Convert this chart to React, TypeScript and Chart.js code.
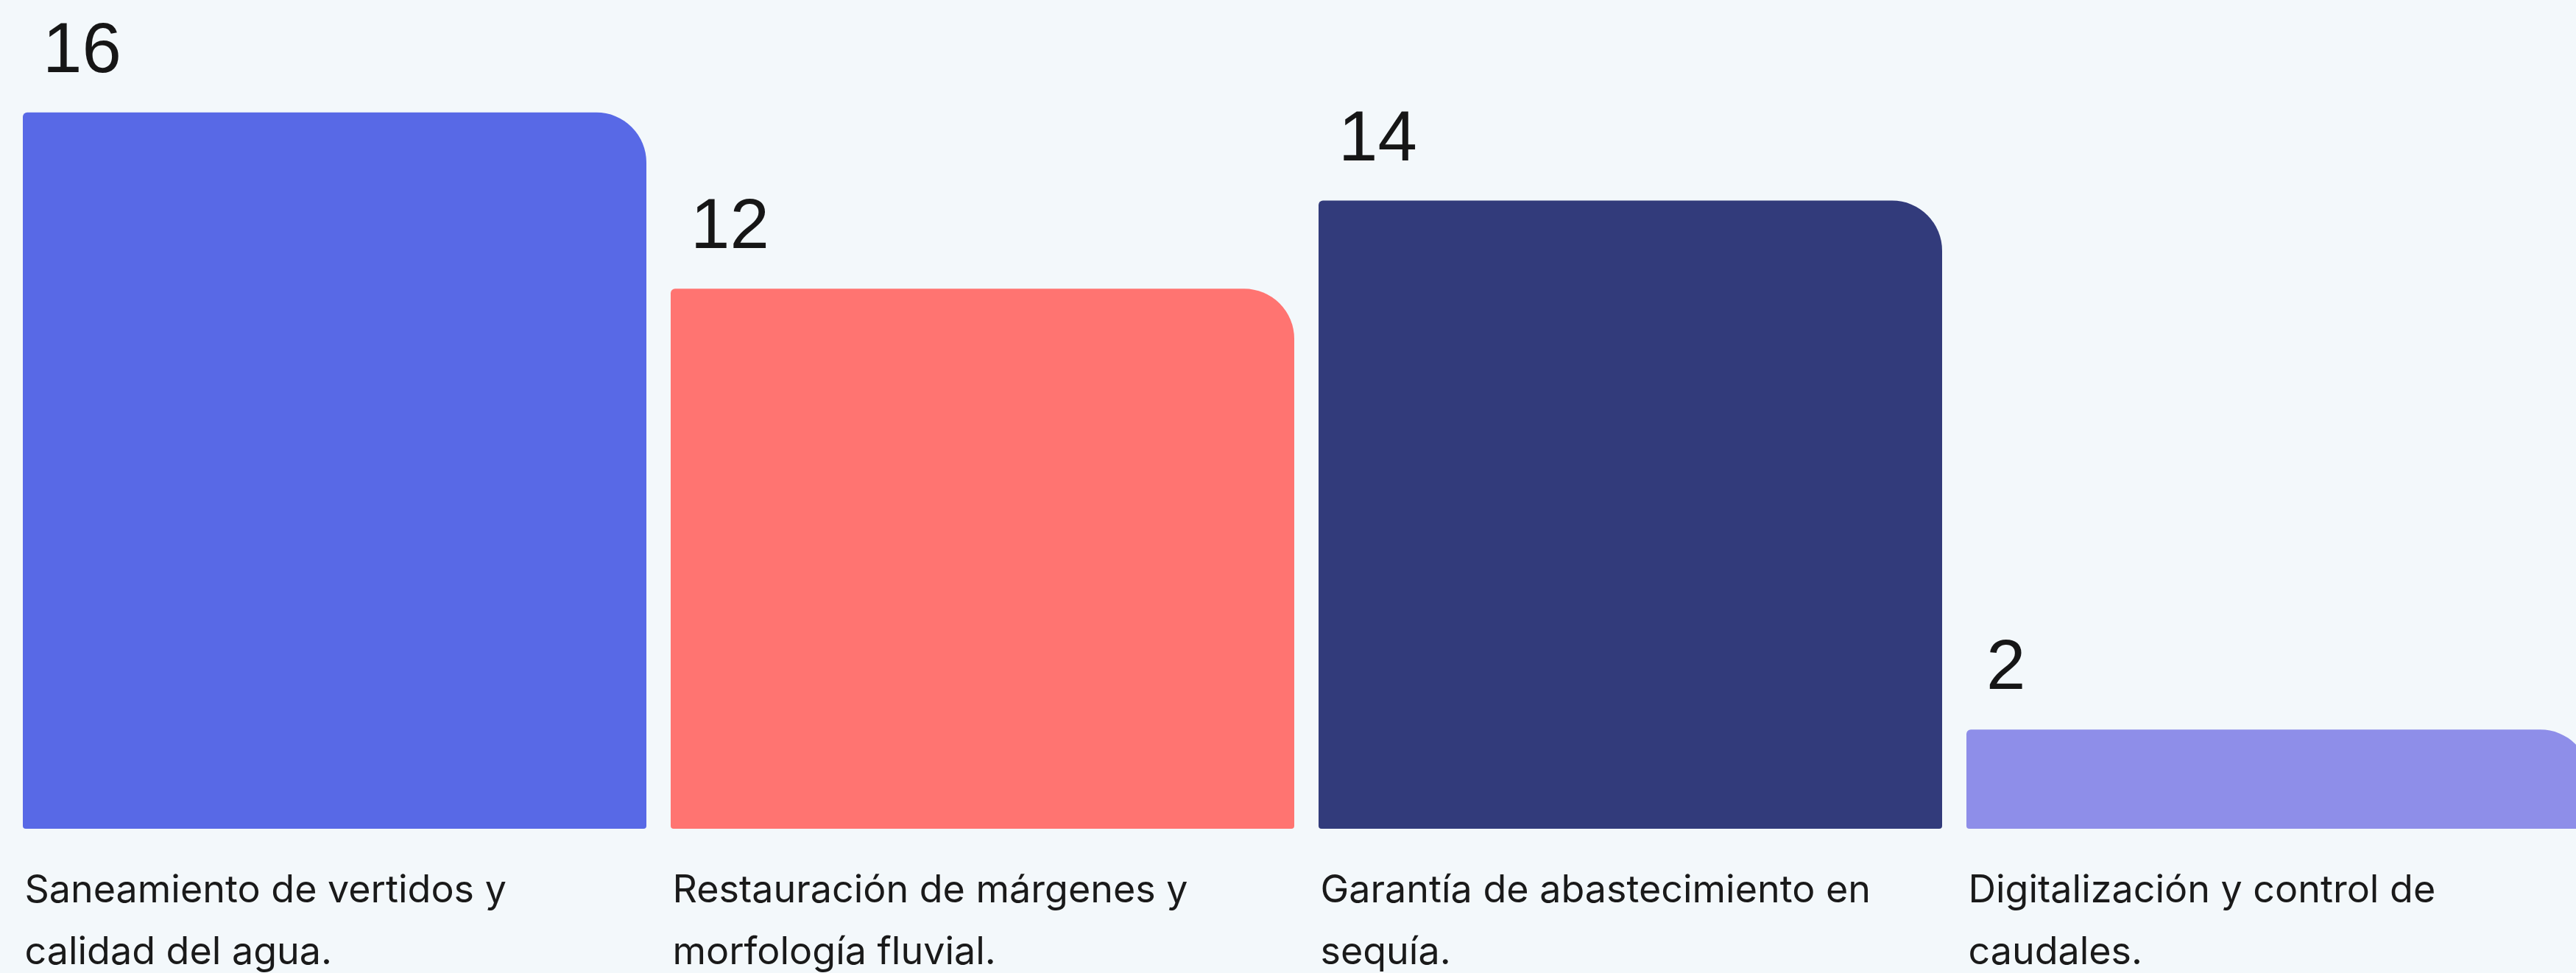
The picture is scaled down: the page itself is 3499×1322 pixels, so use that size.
import React, { useEffect, useRef } from "react";
import { Chart, registerables } from "chart.js";

Chart.register(...registerables);

const categories: string[][] = [
  ["Saneamiento de vertidos y", "calidad del agua."],
  ["Restauración de márgenes y", "morfología fluvial."],
  ["Garantía de abastecimiento en", "sequía."],
  ["Digitalización y control de", "caudales."],
];
const values: number[] = [16, 12, 14, 2];
const barColors: string[] = ["#5869E6", "#FF7471", "#323B7B", "#8E8EE9"];

const BG = "#F3F8FB";

const valueLabels = {
  id: "valueLabels",
  afterDatasetsDraw(chart: any) {
    const ctx = chart.ctx;
    const meta = chart.getDatasetMeta(0);
    ctx.save();
    ctx.font = "96px 'Liberation Sans', Arial, sans-serif";
    ctx.fillStyle = "#161616";
    ctx.textAlign = "left";
    ctx.textBaseline = "alphabetic";
    meta.data.forEach((bar: any, i: number) => {
      const left = bar.x - bar.width / 2;
      ctx.fillText(String(values[i]), left + 27, bar.y - 55);
    });
    ctx.restore();
  },
};

export default function App() {
  const ref = useRef<HTMLCanvasElement>(null);
  useEffect(() => {
    if (!ref.current) return;
    const chart = new Chart(ref.current, {
      type: "bar",
      data: {
        labels: categories,
        datasets: [
          {
            data: values,
            backgroundColor: barColors,
            base: -0.25,
            borderSkipped: false,
            borderRadius: { topLeft: 6, topRight: 68, bottomLeft: 4, bottomRight: 4 },
            categoryPercentage: 1,
            barPercentage: 0.9625,
          } as any,
        ],
      },
      options: {
        responsive: false,
        animation: false,
        devicePixelRatio: 1,
        layout: { padding: { left: 14.5, right: 465.5, top: 33, bottom: 22 } },
        plugins: { legend: { display: false }, tooltip: { enabled: false } },
        scales: {
          y: { display: false, min: -0.25, max: 18 },
          x: {
            grid: { display: false, drawTicks: false },
            border: { display: false },
            ticks: {
              align: "start",
              labelOffset: -421,
              padding: 42,
              color: "#1a1a1a",
              font: { family: "Inter, 'Noto Sans', sans-serif", size: 52, lineHeight: 84 / 52 },
              autoSkip: false,
              maxRotation: 0,
              minRotation: 0,
            },
          },
        },
      },
      plugins: [valueLabels],
    });
    return () => chart.destroy();
  }, []);
  return (
    <div
      style={{
        position: "fixed",
        top: 0,
        left: 0,
        width: "3499px",
        height: "1322px",
        overflow: "hidden",
        background: BG,
      }}
    >
      <canvas ref={ref} width={4000} height={1400} style={{ display: "block", width: "4000px", height: "1400px" }} />
    </div>
  );
}
